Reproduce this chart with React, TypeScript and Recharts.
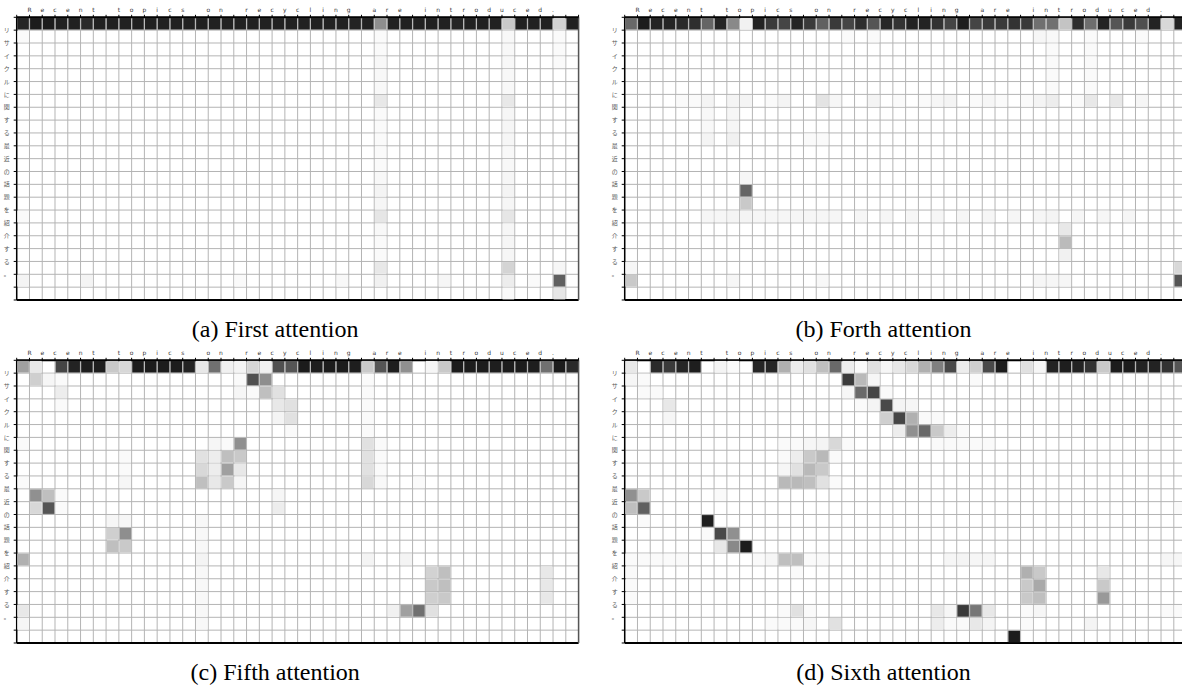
import React from "react";
import {
  ScatterChart,
  Scatter,
  XAxis,
  YAxis,
  CartesianGrid,
  ReferenceLine,
} from "recharts";

// token labels, one per grid line
const xLabels = ["", ..."Recent topics on recycling are introduced.".split(""), ""];
const yLabels = ["", "リ", "サ", "イ", "ク", "ル", "に", "関", "す", "る", "最", "近", "の", "話", "題", "を", "紹", "介", "す", "る", "。", "", ""];

const captions = ["(a) First attention", "(b) Forth attention", "(c) Fifth attention", "(d) Sixth attention"];

// attention of the first row (0 = white, 1 = black)
const topA = [0.96, 1, 1, 0.98, 0.98, 0.94, 0.98, 0.98, 0.98, 0.98, 0.98, 0.98, 0.98, 0.98, 0.98, 0.98, 0.98, 0.98, 0.98, 0.98, 0.98, 0.98, 0.98, 0.98, 0.98, 0.98, 0.97, 0.98, 0.5, 0.98, 0.98, 0.98, 0.98, 0.98, 0.96, 0.98, 0.98, 0.98, 0.24, 0.98, 0.98, 0.98, 0.2, 0.98];
const topB = [0.66, 1, 0.97, 0.96, 0.94, 0.92, 0.68, 0.96, 0.52, 0.06, 0.97, 0.87, 0.82, 0.96, 0.87, 0.7, 0.87, 0.82, 0.92, 0.75, 0.95, 0.9, 0.97, 0.97, 0.9, 0.82, 0.99, 0.82, 0.87, 0.87, 0.9, 0.87, 0.63, 0.63, 0.26, 0.92, 0.64, 0.97, 0.75, 0.87, 0.77, 0.97, 0.17, 0.97];
const topC = [0.42, 0.1, 0, 0.82, 0.97, 0.99, 0.99, 0.24, 0.17, 1, 1, 1, 1, 0.97, 0.1, 0.63, 0.06, 0.05, 0.18, 0.06, 0.77, 0.75, 1, 0.99, 1, 1, 0.99, 0.24, 0.75, 0.99, 0.49, 0, 0.04, 0.24, 1, 1, 1, 0.99, 1, 1, 0.99, 0.63, 1, 0.94];
const topD = [0.1, 0, 0.94, 0.87, 0.96, 0.99, 0, 0.05, 0.02, 0, 0.96, 0.96, 0.35, 0.08, 0.13, 0.28, 0.66, 0.08, 0.02, 0.13, 0.04, 0.1, 0.17, 0.35, 0.56, 0.8, 0.08, 0.21, 0.8, 1, 0, 0.13, 0.04, 0.97, 0.99, 0.97, 0.9, 0.24, 1, 1, 0.97, 0.97, 0.9, 0.75];

// remaining cells: [row, col, attention]
const cellsA = [
  [1, 28, 0.02], [2, 28, 0.02], [3, 28, 0.03], [4, 28, 0.03], [5, 28, 0.03], [6, 28, 0.1], [7, 28, 0.02], [8, 28, 0.02], [9, 28, 0.02], [10, 28, 0.02], [11, 28, 0.02], [12, 28, 0.03], [13, 28, 0.05], [14, 28, 0.04], [15, 28, 0.11], [16, 28, 0.03], [17, 28, 0.02], [18, 28, 0.02], [19, 28, 0.1], [20, 28, 0.06],
  [1, 38, 0.03], [2, 38, 0.03], [3, 38, 0.03], [4, 38, 0.03], [5, 38, 0.03], [6, 38, 0.1], [7, 38, 0.04], [8, 38, 0.04], [9, 38, 0.04], [10, 38, 0.03], [11, 38, 0.03], [12, 38, 0.04], [13, 38, 0.05], [14, 38, 0.04], [15, 38, 0.11], [16, 38, 0.04], [17, 38, 0.04], [18, 38, 0.04], [19, 38, 0.19], [20, 38, 0.08], [21, 38, 0.02],
  [1, 42, 0.02], [2, 42, 0.02], [3, 42, 0.02], [19, 42, 0.04], [20, 42, 0.7], [21, 42, 0.11],
  [1, 0, 0.02], [15, 0, 0.02], [20, 0, 0.05], [20, 5, 0.05], [20, 17, 0.02], [20, 25, 0.03], [20, 33, 0.04], [20, 40, 0.02],
];

const cellsB = [
  [1, 17, 0.02], [1, 19, 0.02], [1, 32, 0.04], [1, 33, 0.03], [1, 36, 0.02], [1, 40, 0.02],
  [2, 33, 0.02], [3, 33, 0.02], [4, 33, 0.02], [5, 33, 0.02], [2, 36, 0.02], [3, 36, 0.02], [4, 36, 0.02], [5, 36, 0.02],
  [6, 4, 0.02], [6, 5, 0.02], [6, 6, 0.05], [6, 8, 0.05], [6, 9, 0.05], [6, 11, 0.02], [6, 12, 0.05], [6, 15, 0.12], [6, 16, 0.04], [6, 19, 0.05],
  [6, 21, 0.02], [6, 23, 0.02], [6, 24, 0.04], [6, 25, 0.05], [6, 27, 0.02], [6, 28, 0.04], [6, 29, 0.02], [6, 31, 0.02], [6, 32, 0.05], [6, 33, 0.08], [6, 35, 0.02], [6, 36, 0.1], [6, 38, 0.1], [6, 40, 0.04],
  [7, 6, 0.03], [8, 6, 0.03], [9, 6, 0.05], [7, 8, 0.04], [8, 8, 0.04], [9, 8, 0.06], [9, 14, 0.02], [9, 15, 0.02],
  [12, 9, 0.04], [13, 9, 0.68], [14, 9, 0.24],
  [15, 6, 0.04], [15, 7, 0.04], [15, 8, 0.05], [15, 9, 0.05], [15, 10, 0.04], [15, 11, 0.04], [15, 12, 0.04], [15, 13, 0.04], [15, 14, 0.04], [15, 15, 0.04], [15, 16, 0.04], [15, 18, 0.04], [15, 20, 0.04], [15, 22, 0.04], [15, 24, 0.04], [15, 26, 0.04], [15, 28, 0.04], [15, 30, 0.04], [15, 32, 0.04], [15, 33, 0.05], [15, 35, 0.04], [15, 37, 0.04], [15, 39, 0.04],
  [16, 34, 0.1], [17, 34, 0.3], [18, 34, 0.06],
  [19, 0, 0.04], [20, 0, 0.24], [19, 43, 0.17], [20, 43, 0.75],
  [20, 8, 0.04], [20, 15, 0.03], [20, 32, 0.04], [20, 33, 0.04], [20, 34, 0.04],
];

const cellsC = [
  [1, 1, 0.21], [1, 2, 0.04], [1, 3, 0.02], [1, 17, 0.02], [1, 18, 0.77], [1, 19, 0.5],
  [2, 3, 0.08], [2, 17, 0.04], [2, 18, 0.02], [2, 19, 0.28], [2, 20, 0.13],
  [3, 3, 0.02], [3, 20, 0.1], [3, 21, 0.13], [4, 20, 0.05], [4, 21, 0.13], [5, 21, 0.02],
  [1, 27, 0.02], [2, 27, 0.02], [3, 27, 0.02], [4, 27, 0.02], [5, 27, 0.02],
  [6, 0, 0.02], [6, 15, 0.04], [6, 16, 0.02], [6, 17, 0.49], [6, 27, 0.13], [6, 28, 0.02],
  [7, 8, 0.02], [7, 14, 0.13], [7, 15, 0.08], [7, 16, 0.28], [7, 17, 0.24], [7, 27, 0.13], [7, 28, 0.02],
  [8, 8, 0.02], [8, 14, 0.17], [8, 15, 0.08], [8, 16, 0.42], [8, 17, 0.1], [8, 27, 0.13], [8, 28, 0.02],
  [9, 0, 0.02], [9, 8, 0.04], [9, 14, 0.28], [9, 15, 0.1], [9, 16, 0.24], [9, 17, 0.04], [9, 27, 0.17], [9, 28, 0.03], [9, 31, 0.02],
  [10, 1, 0.49], [10, 2, 0.28], [10, 3, 0.02], [10, 20, 0.04],
  [11, 1, 0.17], [11, 2, 0.75], [11, 3, 0.02], [11, 20, 0.08],
  [12, 7, 0.04], [12, 8, 0.04], [13, 7, 0.21], [13, 8, 0.5], [14, 7, 0.28], [14, 8, 0.24],
  [12, 14, 0.03], [13, 14, 0.03], [14, 14, 0.03], [16, 14, 0.03], [17, 14, 0.03], [18, 14, 0.03], [19, 14, 0.03], [20, 14, 0.03],
  [15, 0, 0.35], [15, 14, 0.05], [15, 27, 0.05], [15, 30, 0.05],
  [16, 32, 0.2], [16, 33, 0.28], [17, 32, 0.24], [17, 33, 0.28], [18, 32, 0.21], [18, 33, 0.24],
  [16, 41, 0.1], [17, 41, 0.1], [18, 41, 0.1],
  [19, 29, 0.06], [19, 30, 0.42], [19, 31, 0.63], [19, 32, 0.13],
  [19, 0, 0.1], [20, 0, 0.04],
];

const cellsD = [
  [1, 0, 0.04], [1, 1, 0.02], [1, 17, 0.87], [1, 18, 0.31], [1, 19, 0.04], [1, 27, 0.02],
  [2, 1, 0.02], [2, 2, 0.02], [2, 17, 0.04], [2, 18, 0.66], [2, 19, 0.82], [2, 20, 0.02],
  [3, 3, 0.1], [3, 18, 0.02], [3, 19, 0.05], [3, 20, 0.8], [3, 21, 0.05], [3, 22, 0.04],
  [4, 3, 0.04], [4, 20, 0.21], [4, 21, 0.82], [4, 22, 0.35], [4, 23, 0.02], [4, 24, 0.02],
  [5, 21, 0.08], [5, 22, 0.49], [5, 23, 0.66], [5, 24, 0.24], [5, 25, 0.08], [5, 26, 0.02],
  [6, 12, 0.02], [6, 13, 0.02], [6, 14, 0.04], [6, 15, 0.05], [6, 16, 0.17], [6, 17, 0.02], [6, 24, 0.02], [6, 25, 0.02], [6, 26, 0.02], [6, 27, 0.02], [6, 28, 0.02],
  [7, 12, 0.02], [7, 13, 0.08], [7, 14, 0.24], [7, 15, 0.31], [7, 16, 0.02],
  [8, 12, 0.04], [8, 13, 0.13], [8, 14, 0.31], [8, 15, 0.24],
  [9, 12, 0.31], [9, 13, 0.31], [9, 14, 0.28], [9, 15, 0.13], [9, 16, 0.02],
  [10, 0, 0.49], [10, 1, 0.24], [10, 7, 0.02],
  [11, 0, 0.28], [11, 1, 0.7], [11, 43, 0.02],
  [12, 1, 0.02], [12, 6, 0.99],
  [13, 6, 0.02], [13, 7, 0.8], [13, 8, 0.49],
  [14, 7, 0.1], [14, 8, 0.52], [14, 9, 1],
  [15, 0, 0.02], [15, 1, 0.02], [15, 2, 0.02], [15, 3, 0.02], [15, 4, 0.02], [15, 10, 0.02], [15, 11, 0.04], [15, 12, 0.28], [15, 13, 0.28], [15, 14, 0.02], [15, 15, 0.02],
  [15, 25, 0.04], [15, 26, 0.05], [15, 27, 0.04], [15, 28, 0.04], [15, 42, 0.04], [15, 43, 0.04],
  [16, 0, 0.02], [17, 0, 0.02], [18, 0, 0.02], [16, 13, 0.02],
  [16, 31, 0.35], [16, 32, 0.24], [16, 37, 0.1],
  [17, 31, 0.24], [17, 32, 0.38], [17, 37, 0.24],
  [18, 31, 0.24], [18, 32, 0.28], [18, 37, 0.45],
  [19, 12, 0.02], [19, 13, 0.13], [19, 14, 0.02], [19, 24, 0.1], [19, 25, 0.04], [19, 26, 0.87], [19, 27, 0.6], [19, 28, 0.1], [19, 31, 0.02], [19, 32, 0.04], [19, 42, 0.02], [19, 43, 0.02],
  [20, 11, 0.02], [20, 12, 0.02], [20, 13, 0.02], [20, 14, 0.04], [20, 16, 0.13], [20, 24, 0.08], [20, 25, 0.02], [20, 26, 0.02], [20, 27, 0.1], [20, 28, 0.05], [20, 31, 0.02], [20, 36, 0.05],
  [21, 30, 1],
];

const NCOL = 44;
const NROW = 22;
const CELL_W = 12.77;
const CELL_H = 12.85;
const AXIS_LEFT = 16.7;
const AXIS_TOP = 17.3;
const CHART_W = AXIS_LEFT + NCOL * CELL_W + 4;
const CHART_H = AXIS_TOP + NROW * CELL_H + 4;

const xTicks = Array.from({ length: NCOL + 1 }, (_, i) => i);
const yTicks = Array.from({ length: NROW + 1 }, (_, i) => i);

const gray = (v: number) => {
  const g = Math.round(255 - 227 * v);
  return `rgb(${g},${g},${g})`;
};

const buildCells = (top: number[], rest: number[][]) => {
  const pts = top.map((v, c) => ({ x: c + 0.5, y: 0.5, v }));
  rest.forEach(([r, c, v]) => pts.push({ x: c + 0.5, y: r + 0.5, v }));
  return pts.filter((p) => p.v > 0);
};

const CellShape = (props: any) => {
  const { cx, cy, payload } = props;
  if (cx == null || cy == null) return null;
  return (
    <rect
      x={cx - CELL_W / 2 + 0.6}
      y={cy - CELL_H / 2 + 0.6}
      width={CELL_W - 1.2}
      height={CELL_H - 1.2}
      fill={gray(payload.v)}
    />
  );
};

const Heatmap = ({ top, rest }: { top: number[]; rest: number[][] }) => {
  const data = buildCells(top, rest);
  return (
    <ScatterChart
      width={CHART_W}
      height={CHART_H}
      margin={{ top: 0, right: 4, bottom: 4, left: 0 }}
    >
      <CartesianGrid stroke="#b4b4b4" strokeWidth={1} />
      <XAxis
        type="number"
        dataKey="x"
        orientation="top"
        domain={[0, NCOL]}
        ticks={xTicks}
        interval={0}
        height={AXIS_TOP}
        tickSize={2.5}
        tickMargin={3}
        axisLine={{ stroke: "#000", strokeWidth: 2 }}
        tickLine={{ stroke: "#000" }}
        tick={{ fontSize: 6, fill: "#333", fontFamily: "DejaVu Sans" }}
        tickFormatter={(v: number) => xLabels[v] ?? ""}
      />
      <YAxis
        type="number"
        dataKey="y"
        reversed
        domain={[0, NROW]}
        ticks={yTicks}
        interval={0}
        width={AXIS_LEFT}
        tickSize={3}
        tickMargin={4}
        axisLine={{ stroke: "#000", strokeWidth: 1.5 }}
        tickLine={{ stroke: "#000" }}
        tick={{ fontSize: 6, fill: "#555", fontFamily: "Noto Sans CJK JP" }}
        tickFormatter={(v: number) => yLabels[v] ?? ""}
      />
      <Scatter data={data} shape={CellShape} isAnimationActive={false} />
      <ReferenceLine y={NROW} stroke="#000" strokeWidth={2} />
      <ReferenceLine x={NCOL} stroke="#555" strokeWidth={1.5} />
    </ScatterChart>
  );
};

const panels = [
  { top: topA, rest: cellsA, left: 0, y: 0 },
  { top: topB, rest: cellsB, left: 608.3, y: 0 },
  { top: topC, rest: cellsC, left: 0, y: 343.4 },
  { top: topD, rest: cellsD, left: 608.3, y: 343.4 },
];

export default function App() {
  return (
    <div
      style={{
        position: "absolute",
        left: 0,
        top: 0,
        width: 1182,
        height: 687,
        overflow: "hidden",
        background: "#fff",
      }}
    >
      {panels.map((p, i) => (
        <div key={i} style={{ position: "absolute", left: p.left, top: p.y }}>
          <Heatmap top={p.top} rest={p.rest} />
        </div>
      ))}
      {captions.map((c, i) => (
        <div
          key={c}
          style={{
            position: "absolute",
            left: (i % 2) * 608.3 + 275.2 - 150,
            top: i < 2 ? 316.5 : 660,
            width: 300,
            textAlign: "center",
            fontFamily: "Liberation Serif",
            fontSize: 24,
            lineHeight: 1,
            color: "#000",
            whiteSpace: "nowrap",
          }}
        >
          {c}
        </div>
      ))}
    </div>
  );
}
